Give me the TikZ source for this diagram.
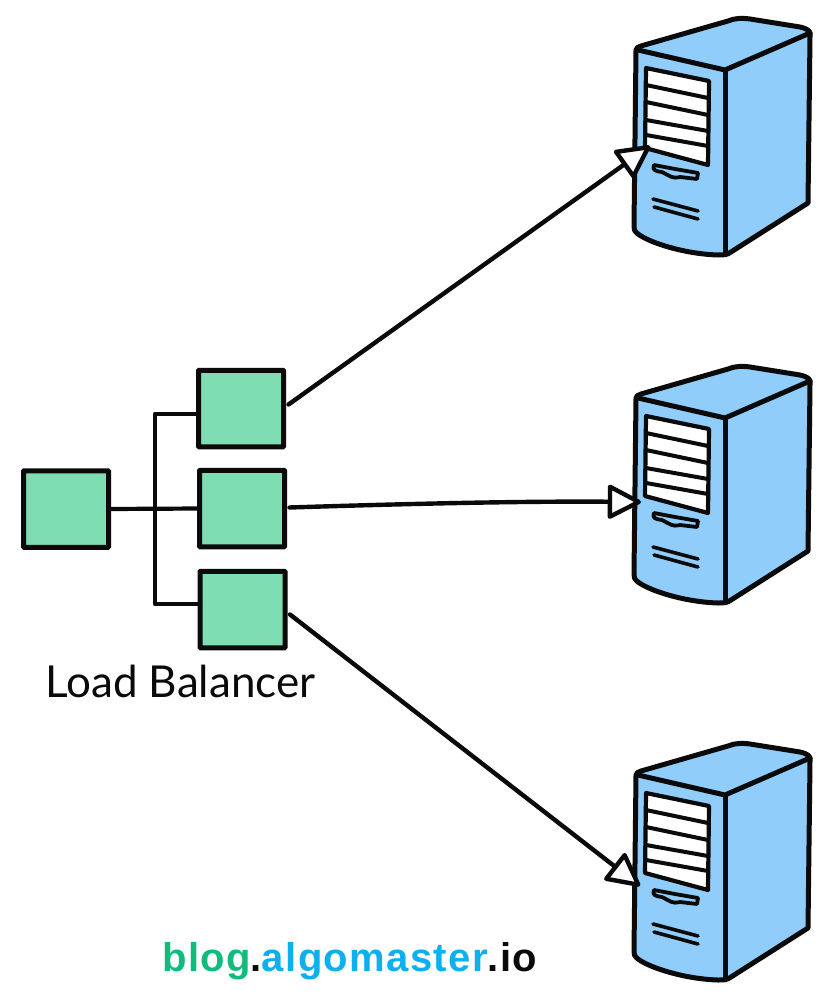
\documentclass[tikz,border=0pt]{standalone}
\usepackage{fontspec}
\setmainfont{Liberation Sans}[LetterSpace=3.5]
\newfontfamily\handfont{Lato}
\usetikzlibrary{arrows.meta,calc}
\definecolor{boxgreen}{HTML}{7FDDB4}
\definecolor{serverblue}{HTML}{90CDFB}
\definecolor{inkblack}{HTML}{0A0A0A}
\definecolor{brandgreen}{HTML}{10BC7C}
\definecolor{brandblue}{HTML}{0EAFEF}
\tikzset{
  lbbox/.style={draw=inkblack,fill=boxgreen,line width=5pt,minimum width=85pt,minimum height=76.5pt,inner sep=0pt,outer sep=0pt,rounded corners=0.6pt},
  wire/.style={draw=inkblack,line width=4.2pt,line join=round,line cap=round},
  flow/.style={draw=inkblack,line width=4.4pt,line cap=round,-{Triangle[length=36pt,width=36pt,fill=white,line width=4.4pt,round]}},
  shell/.style={draw=inkblack,line width=5pt,line join=round,line cap=round},
  server/.pic={
    \draw[shell,fill=serverblue] (636,50) .. controls (636,48) and (638,47) .. (641,46)
      -- (728,21) .. controls (735,18) and (742,18) .. (750,19)
      -- (800,27) .. controls (808,29) and (811,31) .. (810,36)
      -- (808,203) -- (731,252) .. controls (727,255) and (724,255) .. (718,255)
      .. controls (685,254) and (650,243) .. (638,234)
      .. controls (634,231) and (634,229) .. (634,226) -- cycle;
    \draw[shell] (638,50) -- (725,70) -- (810,33);
    \draw[shell] (725,70) -- (725,254);
    \draw[shell,fill=white,line width=4.2pt] (646,68) -- (709,81) -- (708,165) -- (645,148) -- cycle;
    \draw[shell,line width=4pt] (646,85) -- (708,98) (646,102) -- (708,115)
      (646,120) -- (708,131) (646,135) -- (708,146);
    \draw[shell,line width=3.8pt] (654,165) .. controls (652,170) and (655,171) .. (662,172)
      .. controls (670,176) and (672,179) .. (680,177)
      -- (697,179) -- (698,173) -- (675,169) -- cycle;
    \draw[shell,line width=3.6pt] (653,199) -- (698,211) (654,207) -- (698,219);
  }
}
\begin{document}
\begin{tikzpicture}[x=1pt,y=-1pt]
\useasboundingbox (0,0) rectangle (832,1000);
\fill[white] (0,0) rectangle (832,1000);
\pic at (0,0) {server};
\pic at (0,348) {server};
\pic at (0,725) {server};
\node[lbbox] (src) at (66,509) {};
\node[lbbox] (top) at (241,408.5) {};
\node[lbbox] (mid) at (242,508.5) {};
\node[lbbox] (bot) at (242.5,609.5) {};
\coordinate (junction) at (155,509);
\coordinate (head1) at (650,146);
\coordinate (head2) at (641,502);
\coordinate (head3) at (640,886);
\draw[wire] (src.east) -- (mid.west);
\draw[wire] (top.west|-0,414) -- (155,414) -- (junction) -- (155,604) -- (bot.west|-0,604);
\draw[flow] ($(top.east)+(5,-4)$) -- (head1);
\draw[flow] ($(mid.east)+(5,-1)$) .. controls (400,504) and (520,501) .. (head2);
\draw[flow] ($(bot.east)+(5,5)$) -- (head3);
\node[anchor=base west,inner sep=0pt,font=\handfont\fontsize{44}{44}\selectfont,text=inkblack] (lblabel) at (45,697) {Load Balancer};
\node[anchor=base west,inner sep=0pt,font=\bfseries\fontsize{40}{40}\selectfont] (brand) at (162,971)
  {\textcolor{brandgreen}{blog}\textcolor{inkblack}{.}\textcolor{brandblue}{algomaster}\textcolor{inkblack}{.io}};
\end{tikzpicture}
\end{document}
